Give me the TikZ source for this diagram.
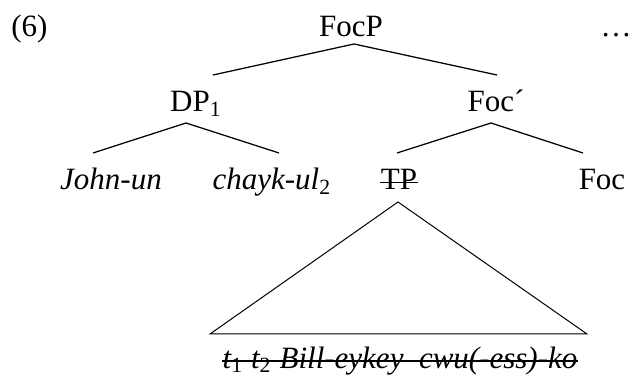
\documentclass[tikz,border=0pt]{standalone}
\usepackage{fontspec}
\setmainfont{Liberation Serif}

\begin{document}
\begin{tikzpicture}[
  x=0.4pt, y=-0.4pt,
  lbl/.style={anchor=base, inner sep=0pt, font=\fontsize{12.4}{14}\selectfont},
  branch/.style={line width=0.5pt},
  roof/.style={line width=0.4pt},
  strike/.style={line width=0.55pt}
]
  \useasboundingbox (0,0) rectangle (632,378);

  \node[lbl] (num)  at (29.5, 37) {(6)};
  \node[lbl] (dots) at (616, 37)  {…};

  \node[lbl] (focp)   at (351, 37)  {FocP};
  \node[lbl] (dp)     at (196, 112) {DP\textsubscript{1}};
  \node[lbl] (focbar) at (496, 112) {Foc´};
  \node[lbl] (john)   at (111, 190) {\textit{John-un}};
  \node[lbl] (chayk)  at (272, 190) {\textit{chayk-ul}\textsubscript{2}};
  \node[lbl] (tp)     at (399, 190) {TP};
  \node[lbl] (foc)    at (602, 190) {Foc};
  \node[lbl] (words)  at (400, 368)
    {\itshape t\textsubscript{\upshape 1} t\textsubscript{\upshape 2} Bill-eykey\ \ cwu(-ess)-ko};

  % struck-out material
  \draw[strike] ([yshift=3pt]tp.base west) -- ([yshift=3pt]tp.base east);
  \draw[strike] ([yshift=2.8pt]words.base west) -- ([yshift=2.8pt]words.base east);

  % branch points
  \coordinate (focp-dn)   at (354, 44);
  \coordinate (dp-up)     at (213, 75);
  \coordinate (focbar-up) at (497, 75);
  \coordinate (dp-dn)     at (186, 123);
  \coordinate (john-up)   at (93, 153);
  \coordinate (chayk-up)  at (279, 153);
  \coordinate (focbar-dn) at (491, 123);
  \coordinate (tp-up)     at (397, 153);
  \coordinate (foc-up)    at (583, 153);
  \coordinate (tp-dn)     at (398, 202);
  \coordinate (roof-l)    at (210, 334);
  \coordinate (roof-r)    at (587, 334);

  \draw[branch] (focp-dn) -- (dp-up);
  \draw[branch] (focp-dn) -- (focbar-up);
  \draw[branch] (dp-dn) -- (john-up);
  \draw[branch] (dp-dn) -- (chayk-up);
  \draw[branch] (focbar-dn) -- (tp-up);
  \draw[branch] (focbar-dn) -- (foc-up);

  % triangle over the TP
  \draw[roof] (tp-dn) -- (roof-l) -- (roof-r) -- cycle;
\end{tikzpicture}
\end{document}
